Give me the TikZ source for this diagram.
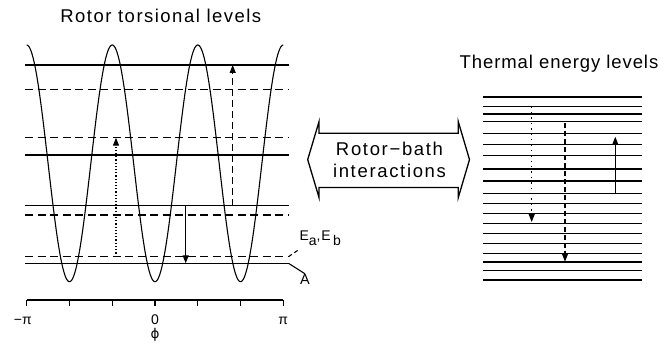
\documentclass[tikz,border=0pt]{standalone}
\usepackage{fontspec}
\setmainfont{Liberation Sans}
\newfontfamily\djv{DejaVu Sans}
\usetikzlibrary{arrows.meta}
\begin{document}
\begin{tikzpicture}[x=1pt,y=-1pt,
  lvl/.style={line width=1.4pt},
  lvldash/.style={line width=1.4pt, dash pattern=on 8pt off 4.5pt},
  tline/.style={line width=1.4pt},
  arr/.style={line width=1.1pt, -{Triangle[length=8pt,width=6pt]}},
  dotarr/.style={arr, dash pattern=on 1.2pt off 2pt},
  dasharr/.style={arr, dash pattern=on 7pt off 4pt},
  bigtxt/.style={font=\fontsize{18.5}{22}\selectfont, inner sep=0pt},
  ticktxt/.style={font=\fontsize{14}{16}\selectfont, inner sep=0pt}
]
\useasboundingbox (0,0) rectangle (670,350);

% titles
\node[bigtxt, anchor=base] (t1) at (160.8,22.7) {\addfontfeature{LetterSpace=8}Rotor torsional levels};
\node[bigtxt, anchor=base] (t2) at (559,68.3) {\addfontfeature{LetterSpace=5}Thermal energy levels};

% potential curve
\draw[line width=1.1pt, line join=round] plot[domain=-180:180, samples=361]
  ({155+0.712778*\x}, {163.35+118.35*cos(3*\x)});

% torsional levels
\foreach \y in {65,155,205.7,263.3} \draw[lvl] (25,\y) -- (288.5,\y);
\foreach \y in {89.3,137.7,215,256.7} \draw[lvldash] (25,\y) -- (288.5,\y);

% transitions (left)
\coordinate (d1a) at (116,256.7); \coordinate (d1b) at (116,137.7);
\coordinate (d2a) at (232.7,205.7); \coordinate (d2b) at (232.7,65);
\coordinate (s1a) at (185.7,206.5); \coordinate (s1b) at (185.7,263.3);
\draw[dotarr] (d1a) -- (d1b);
\draw[dasharr] (d2a) -- (d2b);
\draw[arr] (s1a) -- (s1b);

% level labels
\node[font=\fontsize{14}{16}\selectfont, inner sep=0pt, anchor=base west] (Elab) at (299.3,240.7)
  {\addfontfeature{LetterSpace=6}E\raisebox{-5pt}{a},E\,\raisebox{-5pt}{b}};
\node[font=\fontsize{14.5}{16}\selectfont, inner sep=0pt, anchor=base west] (Alab) at (300,284) {A};
\coordinate (eEnd) at (288.5,256.7); \coordinate (eLead) at (299.3,249.3);
\coordinate (aEnd) at (288.5,263.3);
\draw[line width=1.1pt, dash pattern=on 4pt off 3pt] (eEnd) -- (eLead);
\draw[line width=1.1pt] (aEnd) -- (Alab.north);

% phi axis
\draw[line width=1.1pt] (26.7,300) -- (283.3,300);
\foreach \k in {0,...,6} \draw[line width=1.1pt] ({26.7+\k*42.7667},300) -- ({26.7+\k*42.7667},305.5);
\node[ticktxt, anchor=base east] (lm) at (32,324.3) {−π};
\node[ticktxt, anchor=base] (l0) at (155,324.3) {0};
\node[ticktxt, anchor=base] (lp) at (283.3,324.3) {π};
\node[font=\djv\fontsize{13.5}{16}\selectfont, inner sep=0pt] (phi) at (155,334.5) {ϕ};

% double arrow
\draw[line width=1.3pt, line join=miter]
  (307.7,159.6) -- (319,121.7) -- (319,133.3) -- (458.3,133.3) -- (458.3,121.7)
  -- (469.5,159.6) -- (458.3,197.5) -- (458.3,187.5) -- (319,187.5) -- (319,197.5) -- cycle;
\node[bigtxt, align=center] (rb) at (389.5,160)
  {\addfontfeature{LetterSpace=9}Rotor−bath\\\addfontfeature{LetterSpace=9}interactions};

% thermal levels
\foreach \y in {97,106.5,114,121.5,133.3,144.5,155.7,169,181,193.3,203.3,213.3,223.3,233.3,243.3,253.3,262,270.7,280}
  \draw[tline] (483.3,\y) -- (641.7,\y);
\coordinate (t1a) at (531.7,106.7); \coordinate (t1b) at (531.7,222);
\coordinate (t2a) at (565,123); \coordinate (t2b) at (565,261.7);
\coordinate (t3a) at (615.3,193.3); \coordinate (t3b) at (615.3,136.7);
\draw[arr, dash pattern=on 1.4pt off 4pt] (t1a) -- (t1b);
\draw[arr, dash pattern=on 5pt off 3pt] (t2a) -- (t2b);
\draw[arr] (t3a) -- (t3b);
\end{tikzpicture}
\end{document}
